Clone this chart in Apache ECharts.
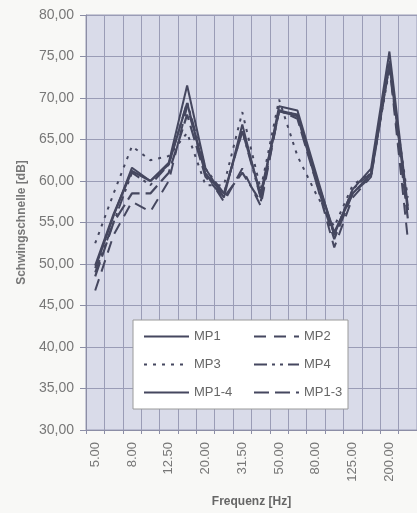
<!DOCTYPE html>
<html>
<head>
    <meta charset="utf-8">
    <script src="https://cdn.jsdelivr.net/npm/echarts@6/dist/echarts.min.js"></script>
    <style>
        html, body { margin: 0; padding: 0; background: #f8f8f6; }
        #main { width: 417px; height: 513px; }
    </style>
</head>
<body>
    <div id="main"></div>
    <script type="text/javascript">
        var freqs = ['5.00', '6.30', '8.00', '10.00', '12.50', '16.00', '20.00', '25.00', '31.50', '40.00',
                     '50.00', '63.00', '80.00', '100.00', '125.00', '160.00', '200.00', '250.00'];

        var mp1   = [49.5, 55.8, 61.6, 60.0, 62.2, 71.5, 61.5, 58.0, 66.8, 58.0, 69.0, 68.5, 61.0, 53.5, 59.0, 61.5, 75.6, 57.0];
        var mp2   = [46.8, 53.5, 57.5, 56.3, 60.0, 69.0, 61.0, 57.5, 61.5, 57.0, 68.5, 68.0, 60.0, 52.0, 58.0, 60.5, 74.0, 53.0];
        var mp3   = [52.5, 58.5, 64.2, 62.5, 63.0, 65.8, 59.5, 59.5, 68.3, 59.0, 69.8, 63.0, 58.5, 54.5, 59.5, 61.0, 73.5, 58.0];
        var mp4   = [49.0, 55.0, 61.0, 59.5, 62.0, 69.5, 61.5, 58.5, 66.0, 58.0, 68.5, 68.0, 60.5, 53.5, 59.0, 61.0, 74.5, 56.5];
        var mp1_4 = [49.8, 56.0, 61.2, 60.0, 62.0, 69.4, 60.8, 58.5, 66.0, 58.5, 68.4, 67.8, 60.5, 53.8, 58.5, 60.8, 74.2, 56.5];
        var mp1_3 = [48.5, 55.0, 58.5, 58.5, 61.0, 68.0, 60.5, 58.0, 61.0, 57.5, 68.5, 67.5, 60.0, 53.0, 58.5, 60.5, 74.0, 55.5];

        var lineColor = '#45475f';
        var font = 'Liberation Sans, Arial, sans-serif';

        function mkSeries(name, data, type, width) {
            return {
                name: name,
                type: 'line',
                symbol: 'none',
                data: data,
                lineStyle: { color: lineColor, width: width, type: type },
                itemStyle: { color: lineColor }
            };
        }

        function mkLegend(names, left) {
            return {
                data: names,
                orient: 'vertical',
                left: left, top: 325,
                itemWidth: 45, itemHeight: 14, itemGap: 15,
                z: 11,
                itemStyle: { opacity: 0 },
                textStyle: { color: '#666', fontSize: 13, fontFamily: font }
            };
        }

        var myChart = echarts.init(document.getElementById('main'));

        myChart.setOption({
            animation: false,
            backgroundColor: '#f8f8f6',
            textStyle: { fontFamily: font },
            grid: {
                left: 86, top: 15, right: 0, bottom: 83,
                outerBoundsMode: 'none',
                show: true,
                backgroundColor: '#d9dbe9',
                borderColor: '#9a9cb6',
                borderWidth: 1
            },
            graphic: [{
                type: 'rect',
                z: 10,
                shape: { x: 133, y: 320, width: 215, height: 89 },
                style: { fill: '#ffffff', stroke: '#9a9a9a', lineWidth: 1 }
            }],
            legend: [
                mkLegend(['MP1', 'MP3', 'MP1-4'], 138),
                mkLegend(['MP2', 'MP4', 'MP1-3'], 248)
            ],
            xAxis: {
                type: 'category',
                data: freqs,
                boundaryGap: true,
                name: 'Frequenz [Hz]',
                nameLocation: 'middle',
                nameGap: 66,
                nameTextStyle: { color: '#666', fontSize: 12, fontWeight: 'bold' },
                axisLine: { lineStyle: { color: '#8c8ea6' } },
                axisTick: { show: true, length: 4, interval: 0, lineStyle: { color: '#8c8ea6' } },
                axisLabel: { interval: 1, rotate: 90, margin: 12, color: '#777', fontSize: 13 },
                splitLine: { show: true, interval: 0, lineStyle: { color: '#9a9cb6', width: 1 } }
            },
            yAxis: {
                type: 'value',
                min: 30, max: 80, interval: 5,
                name: 'Schwingschnelle [dB]',
                nameLocation: 'middle',
                nameGap: 58,
                nameTextStyle: { color: '#777', fontSize: 12, fontWeight: 'bold' },
                axisLine: { show: true, lineStyle: { color: '#8c8ea6' } },
                axisTick: { show: true, length: 6, lineStyle: { color: '#8c8ea6' } },
                axisLabel: {
                    margin: 12, color: '#777', fontSize: 14,
                    formatter: function(v) { return v.toFixed(2).replace('.', ','); }
                },
                splitLine: { show: true, lineStyle: { color: '#9a9cb6', width: 1 } }
            },
            series: [
                mkSeries('MP1', mp1, 'solid', 2),
                mkSeries('MP2', mp2, [12, 8], 2),
                mkSeries('MP3', mp3, [3, 6], 2),
                mkSeries('MP4', mp4, [13, 5, 3, 5, 3, 5], 2),
                mkSeries('MP1-4', mp1_4, 'solid', 2.2),
                mkSeries('MP1-3', mp1_3, [15, 6], 2.2)
            ]
        });
    </script>
</body>
</html>
